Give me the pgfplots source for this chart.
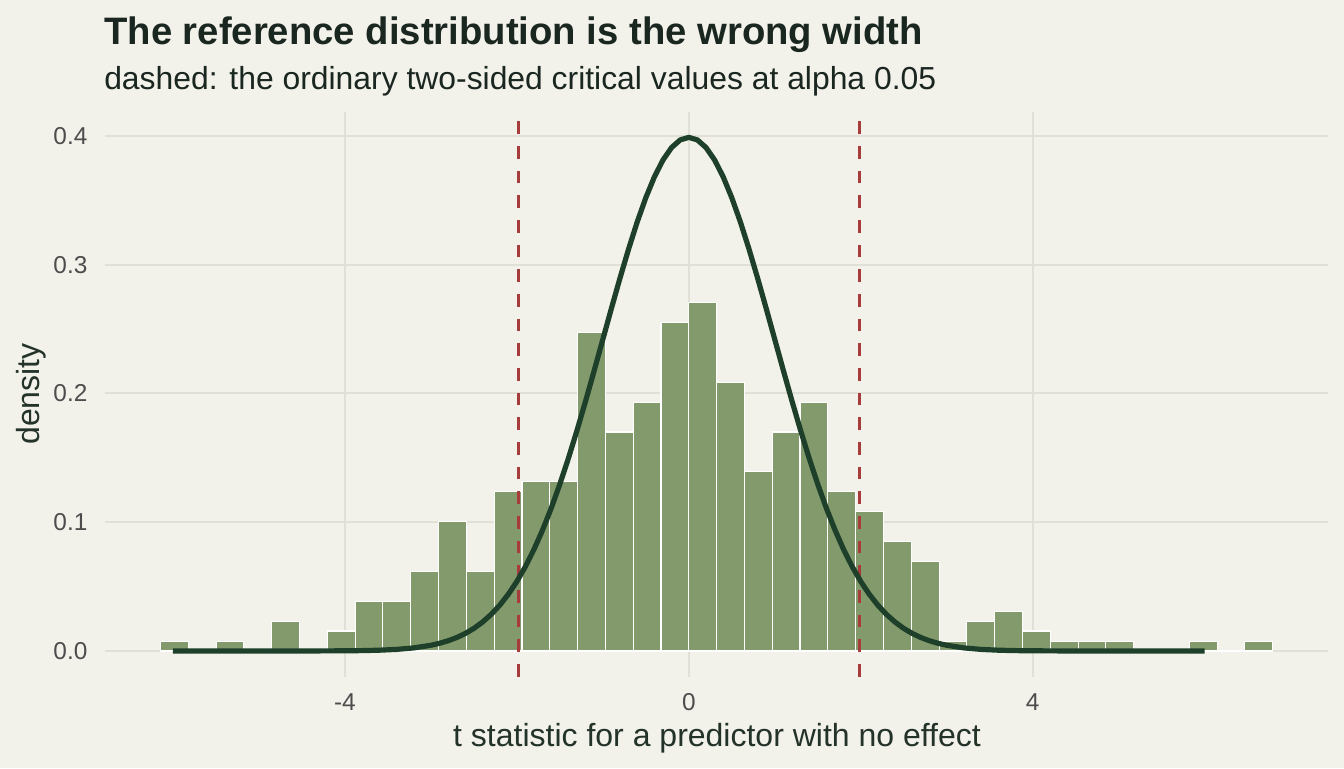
\documentclass[border=0pt]{standalone}
\usepackage{pgfplots}
\pgfplotsset{compat=1.18}
\usepackage{fontspec}
\setmainfont{Liberation Sans}
\definecolor{bg}{HTML}{F2F1EA}
\definecolor{gridc}{HTML}{E1E0D7}
\definecolor{barc}{HTML}{839A6C}
\definecolor{curvec}{HTML}{1E402B}
\definecolor{redc}{HTML}{A83C3C}
\definecolor{titlec}{HTML}{1A2620}
\definecolor{tickc}{HTML}{4D4D4D}
\definecolor{labc}{HTML}{24332A}

\pgfplotstableread{
x y
-6.1446 0.0077
-5.8212 0.0
-5.4978 0.0077
-5.1744 0.0
-4.8510 0.0232
-4.5276 0.0
-4.2042 0.0155
-3.8808 0.0387
-3.5574 0.0387
-3.2340 0.0619
-2.9106 0.1005
-2.5872 0.0619
-2.2638 0.1237
-1.9404 0.1314
-1.6170 0.1314
-1.2936 0.2474
-0.9702 0.1701
-0.6468 0.1933
-0.3234 0.2551
0.0000 0.2706
0.3234 0.2087
0.6468 0.1391
0.9702 0.1701
1.2936 0.1933
1.6170 0.1237
1.9404 0.1082
2.2638 0.0850
2.5872 0.0696
2.9106 0.0077
3.2340 0.0232
3.5574 0.0309
3.8808 0.0155
4.2042 0.0077
4.5276 0.0077
4.8510 0.0077
5.1744 0.0
5.4978 0.0
5.8212 0.0077
6.1446 0.0
6.4680 0.0077
6.7914 0.0
}\hist

\pgfplotstableread{
x y
-6.0 0.0
-5.0 0.0000015
-4.5 0.000016
-4.0 0.000134
-3.8 0.000292
-3.6 0.000612
-3.4 0.001232
-3.2 0.002384
-3.0 0.004432
-2.9 0.005953
-2.8 0.007915
-2.7 0.010421
-2.6 0.013583
-2.5 0.017528
-2.4 0.022395
-2.3 0.028327
-2.2 0.035475
-2.1 0.043984
-2.0 0.053991
-1.9 0.065616
-1.8 0.078950
-1.7 0.094049
-1.6 0.110921
-1.5 0.129518
-1.4 0.149727
-1.3 0.171369
-1.2 0.194186
-1.1 0.217852
-1.0 0.241971
-0.9 0.266085
-0.8 0.289692
-0.7 0.312254
-0.6 0.333225
-0.5 0.352065
-0.4 0.368270
-0.3 0.381388
-0.2 0.391043
-0.1 0.396953
0.0 0.398942
0.1 0.396953
0.2 0.391043
0.3 0.381388
0.4 0.368270
0.5 0.352065
0.6 0.333225
0.7 0.312254
0.8 0.289692
0.9 0.266085
1.0 0.241971
1.1 0.217852
1.2 0.194186
1.3 0.171369
1.4 0.149727
1.5 0.129518
1.6 0.110921
1.7 0.094049
1.8 0.078950
1.9 0.065616
2.0 0.053991
2.1 0.043984
2.2 0.035475
2.3 0.028327
2.4 0.022395
2.5 0.017528
2.6 0.013583
2.7 0.010421
2.8 0.007915
2.9 0.005953
3.0 0.004432
3.2 0.002384
3.4 0.001232
3.6 0.000612
3.8 0.000292
4.0 0.000134
4.5 0.000016
5.0 0.0000015
6.0 0.0
}\curve

\begin{document}
\begin{tikzpicture}[x=0.75pt,y=0.75pt]
\fill[bg] (0,0) rectangle (1344,768);
\begin{axis}[
  at={(78.75pt,68.5pt)}, anchor=south west,
  scale only axis, width=917.6pt, height=423.75pt,
  xmin=-6.79, xmax=7.44, ymin=-0.01995, ymax=0.4189,
  axis line style={draw=none},
  major tick length=0pt,
  xtick={-4,0,4}, xticklabels={-4,0,4},
  ytick={0,0.1,0.2,0.3,0.4}, yticklabels={0.0,0.1,0.2,0.3,0.4},
  grid=major, grid style={color=gridc, line width=1.5pt},
  xticklabel style={anchor=north, inner sep=0pt, yshift=-12.75pt, font=\fontsize{18.3}{22}\selectfont, text=tickc},
  yticklabel style={anchor=east, inner sep=0pt, xshift=-13pt, font=\fontsize{18.3}{22}\selectfont, text=tickc},
  clip=false,
]
\addplot[ybar interval, fill=barc, draw=white, line width=0.8pt] table[x=x, y=y] {\hist};
\addplot[color=redc, line width=2.25pt, dash pattern=on 9.5pt off 9pt] coordinates {(-1.984,-0.01995) (-1.984,0.4189)};
\addplot[color=redc, line width=2.25pt, dash pattern=on 9.5pt off 9pt] coordinates {(1.984,-0.01995) (1.984,0.4189)};
\addplot[color=curvec, line width=3.9pt, line join=round, line cap=butt] table[x=x, y=y] {\curve};
\end{axis}
\node[anchor=base west, inner sep=0pt, text=titlec] at (104,723) {\fontsize{28.7}{34}\selectfont\bfseries The reference distribution is the wrong width};
\node[anchor=base west, inner sep=0pt, text=titlec] at (104,678) {\fontsize{23.9}{29}\selectfont dashed: the ordinary two-sided critical values at alpha 0.05};
\node[anchor=base, inner sep=0pt, text=labc] at (717,22) {\fontsize{24}{29}\selectfont t statistic for a predictor with no effect};
\node[anchor=base, inner sep=0pt, text=labc, rotate=90] at (39,374) {\fontsize{24}{29}\selectfont density};
\end{tikzpicture}
\end{document}
